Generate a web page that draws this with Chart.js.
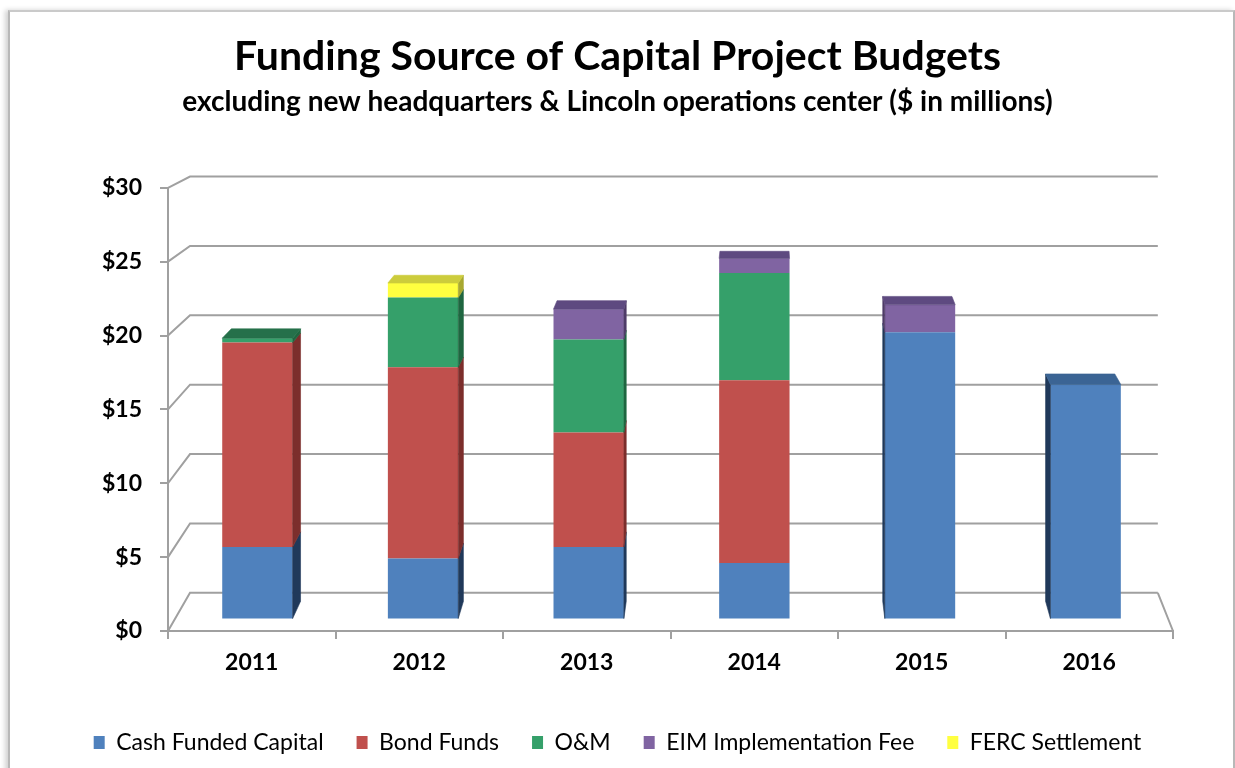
<!DOCTYPE html>
<html>
<head>
<meta charset="utf-8">
<title>Funding Source of Capital Project Budgets</title>
<script src="https://cdn.jsdelivr.net/npm/chart.js@4.4.1/dist/chart.umd.min.js"></script>
<style>
  html, body { margin: 0; padding: 0; background: #fff; overflow: hidden; }
  .frame {
    position: absolute; left: 8px; top: 10px; width: 1223px; height: 820px;
    border: 2px solid #b8b8b8; border-top-color: #cacaca;
    box-shadow: -3px 0 5px rgba(0, 0, 0, 0.18); background: #fff;
  }
  .chart-box { position: absolute; left: 0; top: 0; width: 1235px; height: 768px; }
</style>
</head>
<body>
<div class="frame"></div>
<div class="chart-box"><canvas id="budgetChart"></canvas></div>
<script>
(() => {
  'use strict'

  // $ in millions
  const years = ['2011', '2012', '2013', '2014', '2015', '2016']
  const cashFunded = [5.0, 4.2, 5.0, 3.9, 19.8, 16.2]
  const bondFunds = [14.1, 13.2, 7.9, 12.6, 0, 0]
  const oAndM = [0.3, 4.8, 6.4, 7.4, 0, 0]
  const eimFee = [0, 0, 2.1, 1.0, 1.9, 0]
  const fercSettlement = [0, 1.0, 0, 0, 0, 0]
  const yTicks = [0, 5, 10, 15, 20, 25, 30]

  // front / side / top face colours
  const palette = {
    cash: ['#4f81bd', '#20395a', '#3b6494'],
    bond: ['#c0504d', '#7c2e2c', '#9a3b39'],
    om: ['#35a06a', '#1f6640', '#25704a'],
    eim: ['#8064a2', '#4f3c68', '#5e4a80'],
    ferc: ['#ffff40', '#a8a830', '#cccc3c']
  }
  const lineGrey = '#a0a0a0'

  // simple perspective: points slide toward a vanishing point as depth t goes 0..1
  const view = { vpx: 0.592, vpy: -0.414, kx: 0.037, ky: 0.061, front: 0.3, back: 0.75 }

  function vanish (a) {
    return { x: a.left + view.vpx * (a.right - a.left), y: a.top + view.vpy * (a.bottom - a.top) }
  }
  function project (vp, x, y, t) {
    return [x + (vp.x - x) * view.kx * t, y + (vp.y - y) * view.ky * t]
  }
  function poly (ctx, pts) {
    ctx.beginPath()
    ctx.moveTo(pts[0][0], pts[0][1])
    pts.slice(1).forEach(p => ctx.lineTo(p[0], p[1]))
    ctx.closePath()
    ctx.fill()
    ctx.stroke()
  }

  const box3d = {
    id: 'box3d',
    beforeDatasetsDraw (chart) {
      const { ctx, chartArea: a, scales: { y } } = chart
      const vp = vanish(a)

      // side wall + back wall gridlines, then the right edge of the floor
      ctx.save()
      ctx.strokeStyle = lineGrey
      ctx.lineWidth = 2
      ctx.beginPath()
      yTicks.forEach(v => {
        const py = y.getPixelForValue(v)
        const b = project(vp, a.left, py, 1)
        const c = project(vp, a.right, py, 1)
        ctx.moveTo(a.left, py)
        ctx.lineTo(b[0], b[1])
        ctx.lineTo(c[0], c[1])
      })
      const y0 = y.getPixelForValue(0)
      const r = project(vp, a.right, y0, 1)
      ctx.moveTo(r[0], r[1])
      ctx.lineTo(a.right, y0)
      ctx.stroke()
      ctx.restore()

      // bar front faces sit part way back on the floor
      const sx = 1 - view.kx * view.front
      const sy = 1 - view.ky * view.front
      ctx.save()
      ctx.translate(vp.x, vp.y)
      ctx.scale(sx, sy)
      ctx.translate(-vp.x, -vp.y)
    },
    afterDatasetsDraw (chart) {
      const { ctx, chartArea: a } = chart
      ctx.restore()
      const vp = vanish(a)
      const metas = chart.getSortedVisibleDatasetMetas()

      // topmost non-empty segment of each column gets the lid
      const topOf = years.map((_, i) => {
        let k = -1
        metas.forEach((m, j) => { if (chart.data.datasets[m.index].data[i] > 0) k = j })
        return k
      })

      ctx.save()
      ctx.lineWidth = 0.6
      metas.forEach((meta, j) => {
        const faces = chart.data.datasets[meta.index].faces
        meta.data.forEach((bar, i) => {
          if (!(chart.data.datasets[meta.index].data[i] > 0)) return
          const { x, y, base, width } = bar.getProps(['x', 'y', 'base', 'width'], true)
          const l = x - width / 2
          const r = x + width / 2
          const top = Math.min(y, base)
          const bot = Math.max(y, base)
          const f = (px, py) => project(vp, px, py, view.front)
          const b = (px, py) => project(vp, px, py, view.back)

          ctx.fillStyle = ctx.strokeStyle = faces[1]
          if (r < vp.x) poly(ctx, [f(r, top), b(r, top), b(r, bot), f(r, bot)])
          else if (l > vp.x) poly(ctx, [f(l, top), b(l, top), b(l, bot), f(l, bot)])

          if (topOf[i] === j) {
            ctx.fillStyle = ctx.strokeStyle = faces[2]
            poly(ctx, [f(l, top), f(r, top), b(r, top), b(l, top)])
          }
        })
      })
      ctx.restore()
    }
  }

  const labelFont = { family: 'Lato', weight: 'bold', size: 23 }

  const ctx = document.getElementById('budgetChart')
  // eslint-disable-next-line no-unused-vars
  const budgetChart = new Chart(ctx, {
    type: 'bar',
    data: {
      labels: years,
      datasets: [
        { label: 'Cash Funded Capital', data: cashFunded, backgroundColor: palette.cash[0], faces: palette.cash },
        { label: 'Bond Funds', data: bondFunds, backgroundColor: palette.bond[0], faces: palette.bond },
        { label: 'O&M', data: oAndM, backgroundColor: palette.om[0], faces: palette.om },
        { label: 'EIM Implementation Fee', data: eimFee, backgroundColor: palette.eim[0], faces: palette.eim },
        { label: 'FERC Settlement', data: fercSettlement, backgroundColor: palette.ferc[0], faces: palette.ferc }
      ]
    },
    options: {
      responsive: true,
      maintainAspectRatio: false,
      animation: false,
      layout: { padding: { top: 12, right: 0, bottom: 4, left: 0 } },
      datasets: {
        bar: { categoryPercentage: 1, barPercentage: 0.425, borderWidth: 0 }
      },
      scales: {
        x: {
          stacked: true,
          grid: { offset: true, drawOnChartArea: false, tickLength: 8, color: lineGrey, lineWidth: 2 },
          border: { color: lineGrey, width: 2 },
          ticks: { color: '#000', font: labelFont, padding: 10 },
          afterFit: s => { s.height = 67 }
        },
        y: {
          stacked: true,
          min: 0,
          max: 30,
          afterBuildTicks: s => { s.ticks = yTicks.map(v => ({ value: v })) },
          grid: { drawOnChartArea: false, tickLength: 8, color: lineGrey, lineWidth: 2 },
          border: { color: lineGrey, width: 2 },
          ticks: { color: '#000', font: labelFont, padding: 18, callback: v => '$' + v },
          afterFit: s => { s.width = 168 }
        },
        // empty margin on the right so titles and legend stay centred on the page
        margin: {
          position: 'right',
          grid: { display: false },
          border: { display: false },
          ticks: { display: false },
          afterFit: s => { s.width = 62 }
        }
      },
      plugins: {
        title: {
          display: true,
          text: 'Funding Source of Capital Project Budgets',
          color: '#000',
          font: { family: 'Lato', weight: 'bold', size: 41 },
          padding: { top: 20, bottom: 0 }
        },
        subtitle: {
          display: true,
          text: 'excluding new headquarters & Lincoln operations center ($ in millions)',
          color: '#000',
          font: { family: 'Lato', weight: 'bold', size: 28 },
          padding: { top: 4, bottom: 69 }
        },
        legend: {
          position: 'bottom',
          labels: { boxWidth: 11, boxHeight: 13, padding: 33, color: '#000', font: { family: 'Lato', size: 23 } }
        },
        tooltip: { enabled: false }
      }
    },
    plugins: [box3d]
  })
})()
</script>
</body>
</html>
